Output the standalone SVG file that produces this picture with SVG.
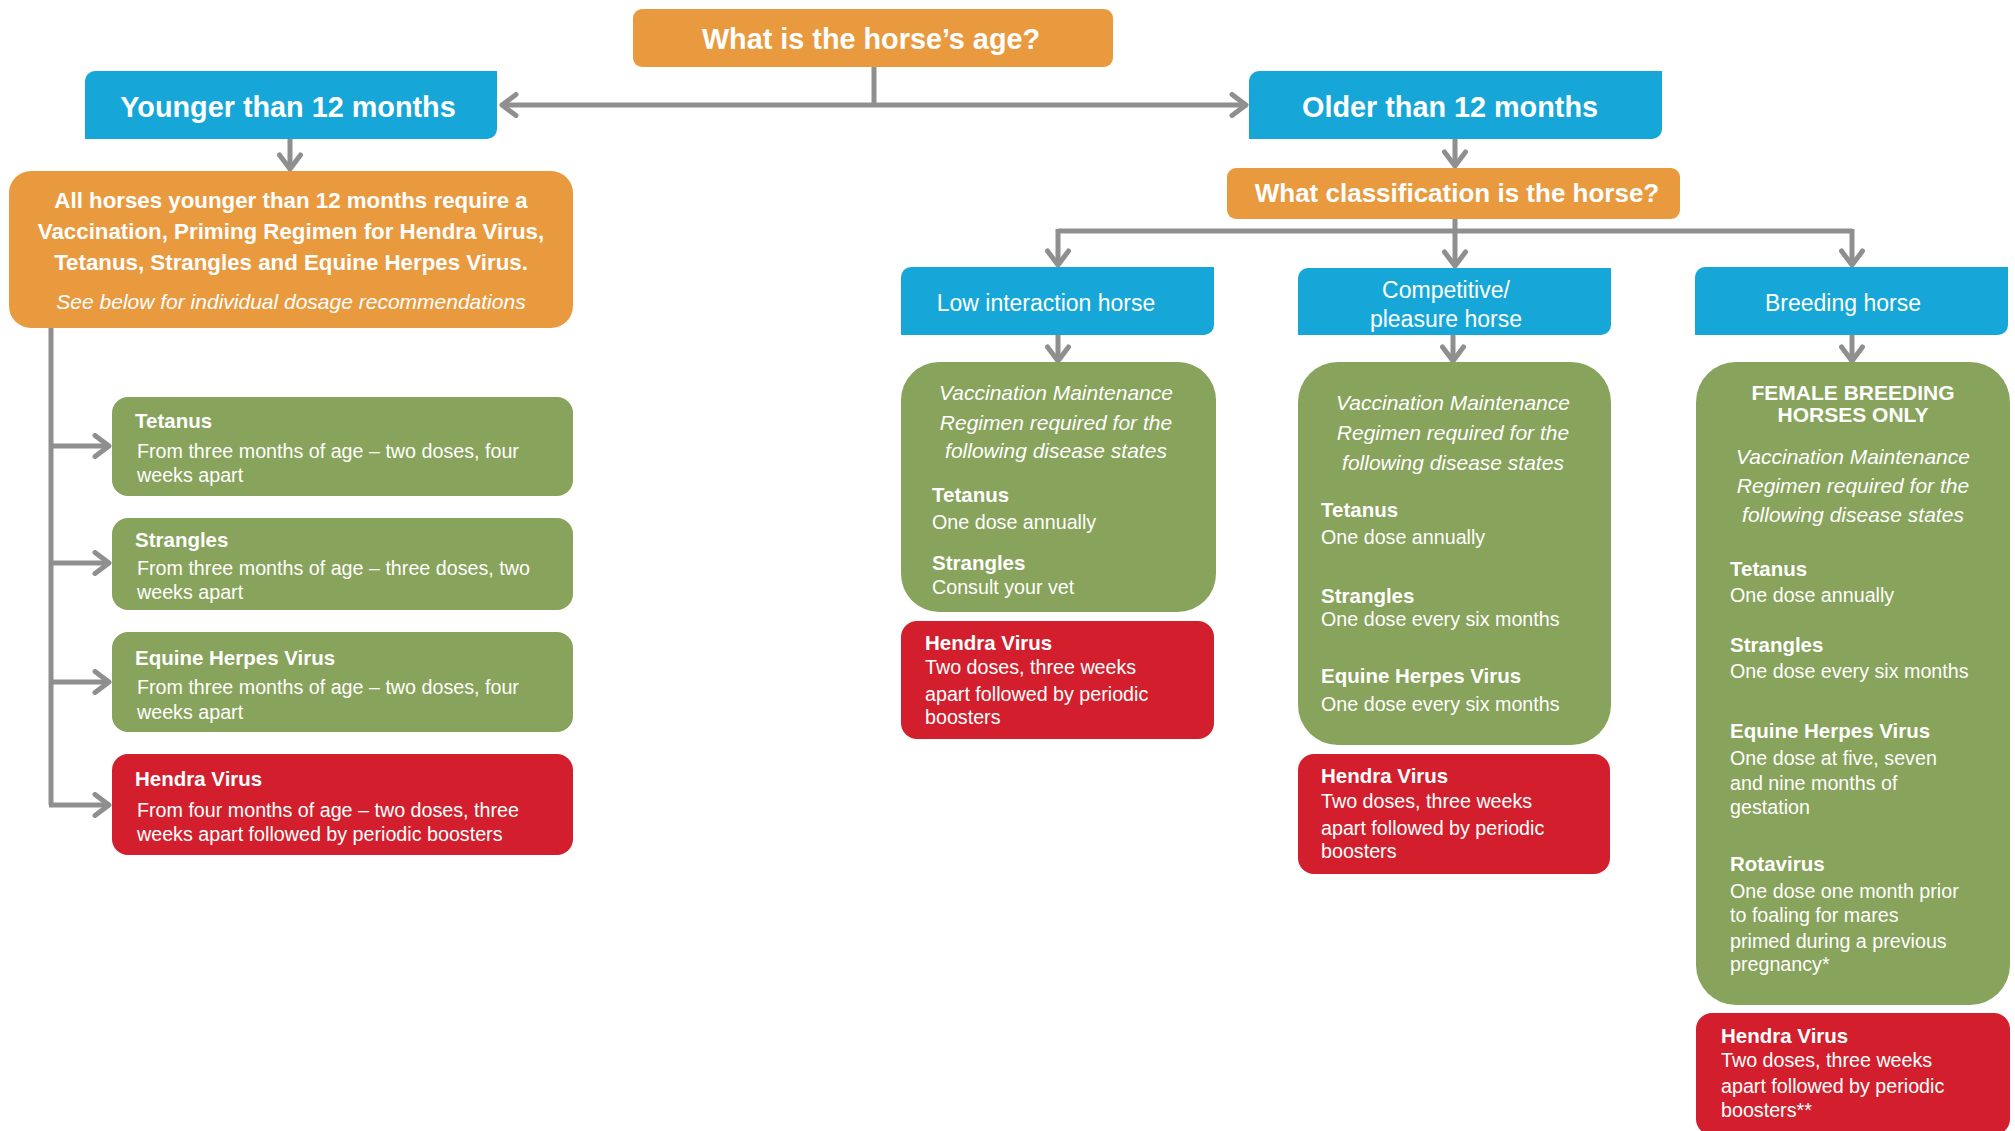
<svg xmlns="http://www.w3.org/2000/svg" width="2015" height="1131" viewBox="0 0 2015 1131">
<defs>
<style>
text{font-family:"Liberation Sans",Arial,Helvetica,sans-serif;fill:#fff}
.orange{fill:#E99A3F}
.blue{fill:#16A7D8}
.green{fill:#88A35B}
.red{fill:#D31F2D}
.h1{font-size:28.8px;font-weight:bold;text-anchor:middle}
.h2{font-size:26px;font-weight:bold;text-anchor:middle}
.cls{font-size:23px;text-anchor:middle}
.intro{font-size:22.3px;font-weight:bold;text-anchor:middle}
.introi{font-size:21px;font-style:italic;text-anchor:middle}
.it{font-size:21px;font-style:italic;text-anchor:middle}
.t{font-size:20.5px;font-weight:bold}
.tc{font-size:21px;font-weight:bold;text-anchor:middle}
.b{font-size:19.7px}
.conn{fill:none;stroke:#8F8F8F;stroke-width:5;stroke-linejoin:miter}
</style>
<marker id="ah" viewBox="0 0 20 26" refX="17" refY="13" markerWidth="20" markerHeight="26" markerUnits="userSpaceOnUse" orient="auto">
<path d="M3,2.5 L17,13 L3,23.5" fill="none" stroke="#8F8F8F" stroke-width="5" stroke-linecap="round" stroke-linejoin="round"/>
</marker>
</defs>

<g id="connectors">
<path class="conn" d="M874,67 V105"/>
<path class="conn" d="M874,105 H502" marker-end="url(#ah)"/>
<path class="conn" d="M874,105 H1246" marker-end="url(#ah)"/>
<path class="conn" d="M290,139 V169" marker-end="url(#ah)"/>
<path class="conn" d="M1455,139 V166" marker-end="url(#ah)"/>
<path class="conn" d="M1455,219 V231"/>
<path class="conn" d="M1058,231 H1852"/>
<path class="conn" d="M1058,229 V265" marker-end="url(#ah)"/>
<path class="conn" d="M1455,231 V266" marker-end="url(#ah)"/>
<path class="conn" d="M1852,229 V265" marker-end="url(#ah)"/>
<path class="conn" d="M1058,335 V361" marker-end="url(#ah)"/>
<path class="conn" d="M1453,335 V361" marker-end="url(#ah)"/>
<path class="conn" d="M1852,335 V361" marker-end="url(#ah)"/>
<path class="conn" d="M51,328 V805"/>
<path class="conn" d="M49,446 H109" marker-end="url(#ah)"/>
<path class="conn" d="M49,563 H109" marker-end="url(#ah)"/>
<path class="conn" d="M49,682 H109" marker-end="url(#ah)"/>
<path class="conn" d="M49,805 H109" marker-end="url(#ah)"/>
</g>

<g id="node-age">
<rect class="orange" x="633" y="9" width="480" height="58" rx="9"/>
<text class="h1" x="871" y="49">What is the horse’s age?</text>
</g>

<g id="node-younger">
<path class="blue" d="M85,81 A10,10 0 0 1 95,71 H497 V129 A10,10 0 0 1 487,139 H85 Z"/>
<text class="h1" x="288" y="117">Younger than 12 months</text>
</g>

<g id="node-older">
<path class="blue" d="M1249,81 A10,10 0 0 1 1259,71 H1662 V129 A10,10 0 0 1 1652,139 H1249 Z"/>
<text class="h1" x="1450" y="117">Older than 12 months</text>
</g>

<g id="node-young-all">
<rect class="orange" x="9" y="171" width="564" height="157" rx="22"/>
<text class="intro" x="291" y="208">All horses younger than 12 months require a</text>
<text class="intro" x="291" y="239">Vaccination, Priming Regimen for Hendra Virus,</text>
<text class="intro" x="291" y="270">Tetanus, Strangles and Equine Herpes Virus.</text>
<text class="introi" x="291" y="309">See below for individual dosage recommendations</text>
</g>

<g id="node-young-tetanus">
<rect class="green" x="112" y="397" width="461" height="99" rx="16"/>
<text class="t" x="135" y="428">Tetanus</text>
<text class="b" x="137" y="458">From three months of age – two doses, four</text>
<text class="b" x="137" y="482">weeks apart</text>
</g>

<g id="node-young-strangles">
<rect class="green" x="112" y="518" width="461" height="92" rx="16"/>
<text class="t" x="135" y="547">Strangles</text>
<text class="b" x="137" y="575">From three months of age – three doses, two</text>
<text class="b" x="137" y="599">weeks apart</text>
</g>

<g id="node-young-ehv">
<rect class="green" x="112" y="632" width="461" height="100" rx="16"/>
<text class="t" x="135" y="665">Equine Herpes Virus</text>
<text class="b" x="137" y="694">From three months of age – two doses, four</text>
<text class="b" x="137" y="719">weeks apart</text>
</g>

<g id="node-young-hendra">
<rect class="red" x="112" y="754" width="461" height="101" rx="16"/>
<text class="t" x="135" y="786">Hendra Virus</text>
<text class="b" x="137" y="817">From four months of age – two doses, three</text>
<text class="b" x="137" y="841">weeks apart followed by periodic boosters</text>
</g>

<g id="node-classification">
<rect class="orange" x="1227" y="168" width="453" height="51" rx="9"/>
<text class="h2" x="1457" y="202">What classification is the horse?</text>
</g>

<g id="node-low">
<path class="blue" d="M901,277 A10,10 0 0 1 911,267 H1214 V325 A10,10 0 0 1 1204,335 H901 Z"/>
<text class="cls" x="1046" y="311">Low interaction horse</text>
</g>

<g id="node-competitive">
<path class="blue" d="M1298,278 A10,10 0 0 1 1308,268 H1611 V325 A10,10 0 0 1 1601,335 H1298 Z"/>
<text class="cls" x="1446" y="298">Competitive/</text>
<text class="cls" x="1446" y="327">pleasure horse</text>
</g>

<g id="node-breeding">
<path class="blue" d="M1695,277 A10,10 0 0 1 1705,267 H2008 V325 A10,10 0 0 1 1998,335 H1695 Z"/>
<text class="cls" x="1843" y="311">Breeding horse</text>
</g>

<g id="node-low-maint">
<rect class="green" x="901" y="362" width="315" height="250" rx="38"/>
<text class="it" x="1056" y="400">Vaccination Maintenance</text>
<text class="it" x="1056" y="430">Regimen required for the</text>
<text class="it" x="1056" y="458">following disease states</text>
<text class="t" x="932" y="502">Tetanus</text>
<text class="b" x="932" y="529">One dose annually</text>
<text class="t" x="932" y="570">Strangles</text>
<text class="b" x="932" y="594">Consult your vet</text>
</g>

<g id="node-low-hendra">
<rect class="red" x="901" y="621" width="313" height="118" rx="16"/>
<text class="t" x="925" y="650">Hendra Virus</text>
<text class="b" x="925" y="674">Two doses, three weeks</text>
<text class="b" x="925" y="701">apart followed by periodic</text>
<text class="b" x="925" y="724">boosters</text>
</g>

<g id="node-comp-maint">
<rect class="green" x="1298" y="362" width="313" height="383" rx="40"/>
<text class="it" x="1453" y="410">Vaccination Maintenance</text>
<text class="it" x="1453" y="440">Regimen required for the</text>
<text class="it" x="1453" y="470">following disease states</text>
<text class="t" x="1321" y="517">Tetanus</text>
<text class="b" x="1321" y="544">One dose annually</text>
<text class="t" x="1321" y="603">Strangles</text>
<text class="b" x="1321" y="626">One dose every six months</text>
<text class="t" x="1321" y="683">Equine Herpes Virus</text>
<text class="b" x="1321" y="711">One dose every six months</text>
</g>

<g id="node-comp-hendra">
<rect class="red" x="1298" y="754" width="312" height="120" rx="16"/>
<text class="t" x="1321" y="783">Hendra Virus</text>
<text class="b" x="1321" y="808">Two doses, three weeks</text>
<text class="b" x="1321" y="835">apart followed by periodic</text>
<text class="b" x="1321" y="858">boosters</text>
</g>

<g id="node-breed-maint">
<rect class="green" x="1696" y="362" width="314" height="643" rx="40"/>
<text class="tc" x="1853" y="400">FEMALE BREEDING</text>
<text class="tc" x="1853" y="422">HORSES ONLY</text>
<text class="it" x="1853" y="464">Vaccination Maintenance</text>
<text class="it" x="1853" y="493">Regimen required for the</text>
<text class="it" x="1853" y="522">following disease states</text>
<text class="t" x="1730" y="576">Tetanus</text>
<text class="b" x="1730" y="602">One dose annually</text>
<text class="t" x="1730" y="652">Strangles</text>
<text class="b" x="1730" y="678">One dose every six months</text>
<text class="t" x="1730" y="738">Equine Herpes Virus</text>
<text class="b" x="1730" y="765">One dose at five, seven</text>
<text class="b" x="1730" y="790">and nine months of</text>
<text class="b" x="1730" y="814">gestation</text>
<text class="t" x="1730" y="871">Rotavirus</text>
<text class="b" x="1730" y="898">One dose one month prior</text>
<text class="b" x="1730" y="922">to foaling for mares</text>
<text class="b" x="1730" y="948">primed during a previous</text>
<text class="b" x="1730" y="971">pregnancy*</text>
</g>

<g id="node-breed-hendra">
<rect class="red" x="1696" y="1013" width="314" height="122" rx="16"/>
<text class="t" x="1721" y="1043">Hendra Virus</text>
<text class="b" x="1721" y="1067">Two doses, three weeks</text>
<text class="b" x="1721" y="1093">apart followed by periodic</text>
<text class="b" x="1721" y="1117">boosters**</text>
</g>
</svg>
